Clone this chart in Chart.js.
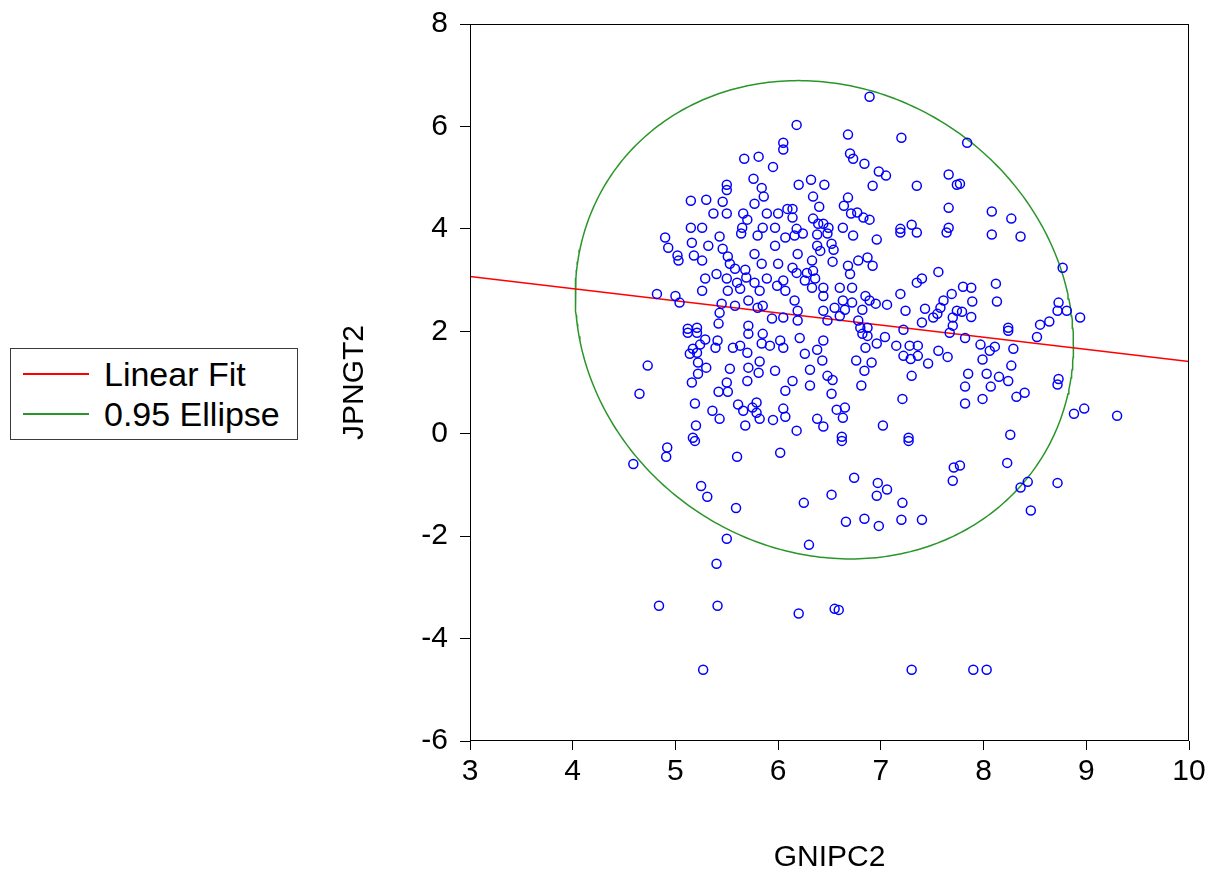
<!DOCTYPE html>
<html><head><meta charset="utf-8">
<script src="https://cdn.jsdelivr.net/npm/chart.js@4.4.1/dist/chart.umd.min.js"></script>
<style>
html,body{margin:0;padding:0;background:#fff;}
#wrap{position:relative;width:1222px;height:879px;}
#c{position:absolute;left:0;top:0;}
#legend{position:absolute;left:10px;top:348px;width:288px;height:92px;box-sizing:border-box;border:1px solid #3a3a3a;font-family:'Liberation Sans',Arial,sans-serif;font-size:34px;color:#000;background:#fff;}
.sw{position:absolute;left:12px;width:66px;height:2px;}
.lbl{position:absolute;left:93px;white-space:nowrap;line-height:36px;height:36px;}
</style></head>
<body>
<div id="wrap">
<canvas id="c" width="1222" height="879"></canvas>
<div id="legend">
  <div class="sw" style="top:24px;background:#ff0000"></div><div class="lbl" style="top:7px">Linear Fit</div>
  <div class="sw" style="top:64px;background:#2a962a"></div><div class="lbl" style="top:47px">0.95 Ellipse</div>
</div>
</div>
<script>
// GNIPC2 (x) values
const gnipc2 = [
6.89,6.18,7.84,4.59,4.84,5.40,5.41,5.27,6.20,6.55,6.59,7.30,7.90,8.03,9.30,8.98,8.88,8.94,8.77,
8.23,8.36,8.43,8.72,8.46,7.77,
6.74,6.97,7.06,6.52,6.96,6.25,7.21,6.66,6.84,6.98,7.20,7.40,6.30,7.71,7.70,6.62,7.27,
4.92,4.91,5.60,6.02,5.25,5.31,5.59,5.50,5.19,
7.82,8.24,8.52,7.97,8.06,8.11,8.29,7.99,8.27,7.85,8.03,8.15,8.24,7.82,8.07,8.73,8.72,7.99,8.32,8.40,7.82,8.26,
8.08,8.36,7.80,7.88,8.12,7.89,8.13,8.73,8.72,8.81,7.79,7.88,8.55,8.64,8.24,
7.77,8.08,8.27,
6.68,7.20,6.70,6.73,6.84,6.98,7.05,7.66,7.74,6.32,6.20,6.45,6.92,7.35,6.34,6.40,6.68,6.64,6.71,6.77,6.83,6.89,7.66,6.14,6.14,6.34,6.39,6.44,6.49,6.63,7.19,7.30,7.66,6.18,
6.05,6.05,5.67,5.81,5.95,5.76,5.84,5.50,5.50,5.86,5.15,5.30,5.46,5.77,6.09,5.37,5.50,5.66,5.70,5.89,6.00,5.15,5.26,5.65,5.85,5.97,
4.90,4.93,5.02,5.03,5.16,5.32,5.18,5.26,5.43,5.46,5.51,5.64,5.80,5.77,5.97,6.07,6.00,5.84,5.53,5.58,5.68,5.29,5.40,5.26,5.50,5.51,5.60,5.63,5.69,5.77,5.82,5.89,5.99,6.05,6.07,4.82,5.00,5.04,5.45,5.43,5.58,5.71,5.80,5.85,5.94,6.05,5.42,5.71,5.21,5.12,
6.16,6.24,6.38,6.48,6.73,6.96,7.19,7.35,7.64,6.38,6.41,6.52,6.54,6.19,6.33,6.53,6.68,6.78,6.87,6.92,6.70,6.14,6.18,6.28,6.34,6.26,6.36,6.33,6.44,6.44,6.60,6.72,6.63,6.72,6.85,6.89,6.95,7.06,7.19,7.35,7.40,7.56,7.69,7.61,7.58,6.16,6.19,6.44,6.55,6.65,6.82,7.24,7.43,7.55,7.51,7.40,7.74,7.70,6.19,6.48,6.60,6.78,6.80,6.87,7.22,7.70,
4.73,4.65,5.12,5.21,5.29,5.41,5.39,5.24,5.17,5.14,5.21,5.22,5.30,5.22,5.16,5.53,5.50,5.42,5.51,5.71,5.70,5.81,5.82,5.97,5.56,5.63,5.70,5.71,5.85,5.84,5.92,6.02,6.05,6.07,5.19,5.36,5.43,5.61,5.66,5.75,5.79,5.79,5.82,5.95,6.05,6.07,5.20,5.68,5.17,
6.21,6.44,6.26,6.38,6.43,6.31,6.14,6.31,6.48,6.53,6.52,6.57,6.65,6.63,6.38,6.44,6.18,6.62,6.82,6.87,7.04,6.85,6.96,7.15,6.76,6.91,6.84,6.81,7.28,7.36,7.22,7.29,7.36,7.46,7.56,7.65,7.30,7.21,7.02,7.27,7.67
];
// JPNGT2 (y) values
const jpngt2 = [
6.58,6.03,5.68,-0.59,-3.36,-2.54,-3.36,-4.61,-3.51,-3.42,-3.44,-4.61,-4.61,-4.61,0.35,0.49,0.39,2.27,3.24,
-0.57,-1.05,-0.94,-0.96,-1.50,-0.62,
-0.86,-0.96,-1.09,-1.19,-1.21,-1.35,-1.35,-1.72,-1.66,-1.80,-1.68,-1.68,-2.17,-0.66,-0.92,-0.14,-0.14,
-0.27,-0.45,-0.45,-0.37,-1.02,-1.23,-1.45,-2.05,-0.14,
1.87,2.01,1.89,1.74,1.62,1.70,1.66,1.45,1.33,1.17,1.17,1.11,1.03,0.92,0.92,1.07,0.96,0.68,0.72,0.80,0.59,-0.02,
3.89,3.85,2.87,2.85,2.93,2.58,2.58,2.56,2.40,2.40,2.38,2.28,2.13,2.19,2.07,
4.88,4.34,4.20,
5.84,5.78,5.47,5.37,5.27,5.12,5.04,5.06,4.86,4.96,4.86,4.86,4.84,4.84,4.63,4.43,4.61,4.45,4.30,4.32,4.22,4.18,4.41,4.39,4.22,4.20,4.10,4.10,4.02,4.02,4.00,4.08,4.02,4.00,
5.68,5.55,5.37,5.41,5.21,4.98,4.80,4.86,4.76,4.63,4.55,4.57,4.53,4.49,4.39,4.30,4.30,4.30,4.18,4.30,4.30,4.02,4.02,4.02,4.02,4.02,
3.83,3.63,3.48,3.38,3.73,3.67,3.48,3.38,3.85,3.61,3.46,3.91,3.87,3.51,3.67,3.83,3.32,3.32,3.32,3.22,3.20,3.03,3.12,2.79,3.03,2.79,2.95,2.83,3.05,2.95,2.79,3.03,2.89,2.99,2.79,2.73,2.69,2.56,2.54,2.36,2.50,2.60,2.46,2.50,2.25,2.27,2.15,2.11,2.07,2.05,
3.87,3.91,3.89,3.91,3.87,3.79,3.93,3.93,3.93,3.67,3.57,3.71,3.59,3.51,3.38,3.36,3.28,3.38,3.44,3.28,3.12,3.24,3.14,3.14,3.18,2.99,3.03,2.85,2.85,2.69,2.85,2.85,2.60,2.56,2.69,2.60,2.54,2.52,2.73,2.95,3.03,3.16,2.73,2.60,2.46,2.60,2.40,2.40,2.46,2.42,2.42,2.40,2.44,2.34,2.27,2.17,2.40,2.27,2.21,2.21,2.30,2.21,2.07,2.07,2.03,2.11,
1.33,0.78,1.97,1.97,1.84,1.82,1.68,1.74,1.66,1.56,1.58,1.39,1.29,1.17,1.00,1.27,1.00,0.82,0.82,1.29,1.03,1.19,1.41,1.23,1.68,1.72,1.58,1.95,1.95,1.76,1.72,1.82,1.68,0.84,0.59,0.45,0.29,0.57,0.45,0.51,0.61,0.41,0.29,0.27,0.49,0.33,0.16,0.16,-0.08,
1.87,1.82,1.56,1.64,1.43,1.25,1.03,0.94,1.13,1.05,0.78,0.47,0.51,0.31,0.29,0.14,0.06,-0.06,1.95,1.91,1.89,1.68,1.76,1.72,1.43,1.39,1.23,0.94,1.72,1.72,1.52,1.46,1.52,1.37,1.62,1.50,1.13,0.68,0.16,-0.08,1.97
];
// Linear fit endpoints
const fitX = [3, 10];
const fitY = [3.07, 1.41];
// 0.95 ellipse parameters
const ellipseCenterX = 6.45, ellipseCenterY = 2.225;
const ellipseHalfX = 2.425, ellipseHalfY = 4.67, ellipseCorr = -0.105;
// Axis tick settings
const xTicks = {min: 3, max: 10, step: 1};
const yTicks = {min: -6, max: 8, step: 2};
const xTitle = 'GNIPC2', yTitle = 'JPNGT2';

const points = gnipc2.map((x, i) => ({x: x, y: jpngt2[i]}));
const fitData = fitX.map((x, i) => ({x: x, y: fitY[i]}));
const ellipseData = [];
const N = 360;
for (let i = 0; i <= N; i++) {
  const t = 2 * Math.PI * i / N;
  ellipseData.push({
    x: ellipseCenterX + ellipseHalfX * Math.cos(t),
    y: ellipseCenterY + ellipseHalfY * (ellipseCorr * Math.cos(t) + Math.sqrt(1 - ellipseCorr * ellipseCorr) * Math.sin(t))
  });
}

const font = {family: "'Liberation Sans', Arial, sans-serif", size: 30};
const frame = {
  id: 'frame',
  afterDraw(chart) {
    const {ctx, chartArea: a} = chart;
    ctx.save();
    ctx.strokeStyle = '#000';
    ctx.lineWidth = 1;
    ctx.strokeRect(Math.round(a.left) + 0.5, Math.round(a.top) + 0.5, Math.round(a.right - a.left) - 1, Math.round(a.bottom - a.top) - 1);
    ctx.restore();
  }
};

new Chart(document.getElementById('c'), {
  type: 'scatter',
  data: {datasets: [
    {label: 'Points', data: points, pointStyle: 'circle', pointRadius: 4.5, pointHoverRadius: 4.5,
     borderColor: '#0000ff', backgroundColor: 'rgba(0,0,0,0)', borderWidth: 1.5, showLine: false, order: 1},
    {label: 'Linear Fit', type: 'line', data: fitData, borderColor: '#ff0000', borderWidth: 1.5,
     pointRadius: 0, fill: false, tension: 0, order: 2},
    {label: '0.95 Ellipse', type: 'line', data: ellipseData, borderColor: '#2a962a', borderWidth: 1.5,
     pointRadius: 0, fill: false, tension: 0, order: 3}
  ]},
  options: {
    responsive: false, animation: false, devicePixelRatio: 1,
    layout: {padding: {left: 320, right: 33, top: 24, bottom: 0}},
    plugins: {legend: {display: false}, tooltip: {enabled: false}},
    scales: {
      x: {type: 'linear', position: 'bottom', min: xTicks.min, max: xTicks.max,
          ticks: {stepSize: xTicks.step, font: font, color: '#000', padding: 4, maxRotation: 0, autoSkip: false},
          grid: {drawOnChartArea: false, drawTicks: true, tickLength: 9, tickColor: '#000', color: '#000'},
          border: {display: false},
          title: {display: true, text: xTitle, font: font, color: '#000', padding: {top: 0, bottom: 3}},
          afterFit: s => { s.height = 138; }},
      y: {type: 'linear', position: 'left', min: yTicks.min, max: yTicks.max,
          ticks: {stepSize: yTicks.step, font: font, color: '#000', padding: 12, autoSkip: false},
          grid: {drawOnChartArea: false, drawTicks: true, tickLength: 10, tickColor: '#000', color: '#000'},
          border: {display: false},
          title: {display: true, text: yTitle, font: font, color: '#000', padding: {top: 17, bottom: 0}},
          afterFit: s => { s.width = 150; s.paddingTop = 0; s.paddingBottom = 0; }}
    }
  },
  plugins: [frame]
});
</script>
</body></html>
